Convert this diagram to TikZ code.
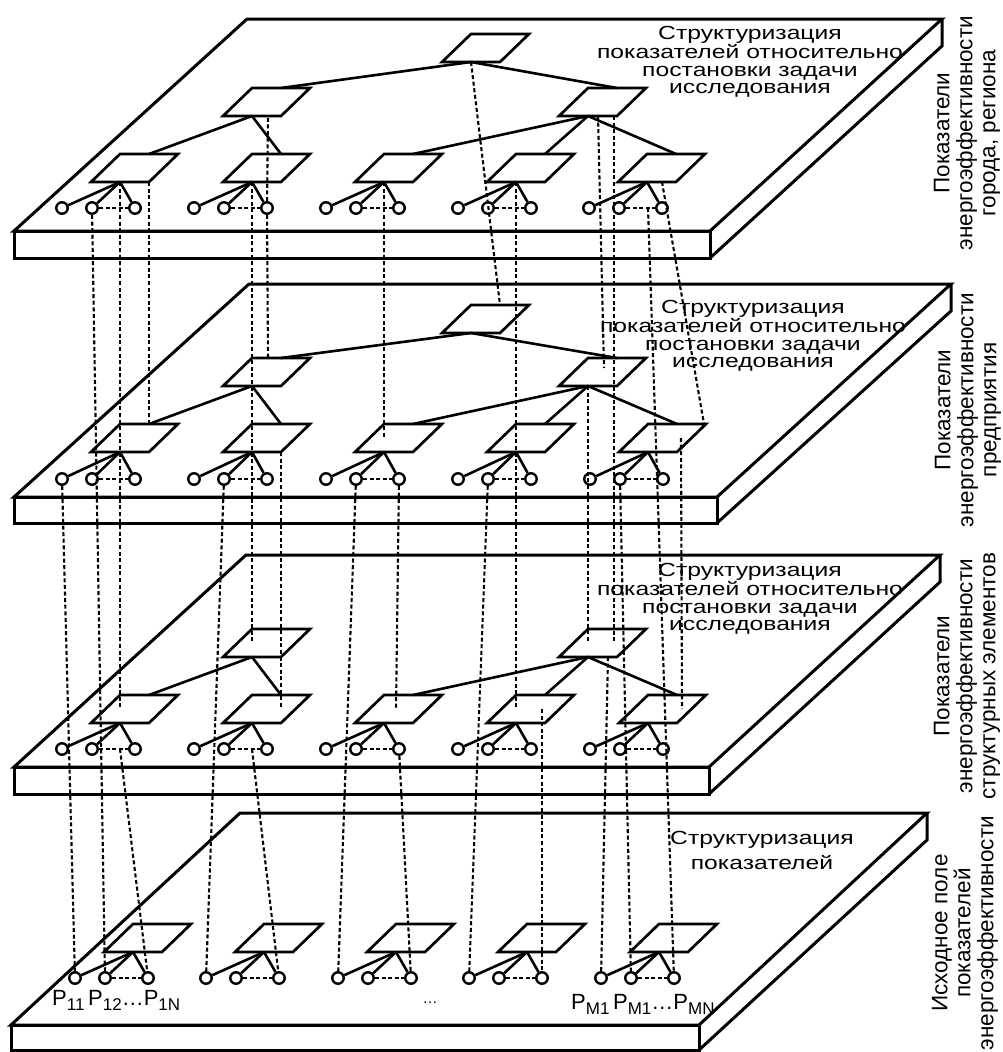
\documentclass[tikz,border=0pt]{standalone}
\usepackage{fontspec}
\setmainfont{Liberation Sans}
\newfontfamily\wfont[FakeStretch=1.3]{Liberation Sans}
\usetikzlibrary{calc}
\tikzset{
  plate/.style={line width=3pt, line join=miter},
  cardline/.style={line width=2.7pt, line join=miter},
  link/.style={line width=2.6pt},
  leaf/.style={circle, draw, line width=2.4pt, minimum size=11.5pt, inner sep=0pt},
  corr/.style={line width=2.1pt, dash pattern=on 4pt off 2.6pt},
  ptext/.style={font=\wfont\fontsize{19}{17.5}\selectfont, align=center, inner sep=0pt},
  vlab/.style={rotate=90, align=center, font=\fontsize{22.5}{23}\selectfont, inner sep=0pt},
  plab/.style={font=\fontsize{22}{22}\selectfont, inner sep=0pt, anchor=base west},
}
% card: name, bottom-middle x, bottom y
\newcommand\mkcard[3]{%
  \coordinate (#1-b) at (#2,#3);
  \coordinate (#1-t) at ({#2+29},{#3-28});
  \coordinate (#1-br) at ({#2+29},#3);
  \coordinate (#1-tr) at ({#2+58},{#3-28});
  \coordinate (#1-m) at (#2,{#3-14});
  \coordinate (#1-mr) at ({#2+29},{#3-14});
  \draw[cardline] ({#2-29},#3) -- ({#2+29},#3) -- ({#2+58},{#3-28}) -- (#2,{#3-28}) -- cycle;
}
% card with three leaves: name, bx, by, row y
\newcommand\mkgroup[4]{%
  \mkcard{#1}{#2}{#3}
  \node[leaf] (#1c1) at ({#2-58},#4) {};
  \node[leaf] (#1c2) at ({#2-28},#4) {};
  \node[leaf] (#1c3) at ({#2+15},#4) {};
  \coordinate (#1-r) at (#2,#4);
  \draw[link] (#1-b) -- (#1c1);
  \draw[link] (#1-b) -- (#1c2);
  \draw[link] (#1-b) -- (#1c3);
  \draw[corr] (#1c2) -- (#1c3);
}
\newcommand\psub[1]{{\fontsize{17}{17}\selectfont\raisebox{-5pt}{#1}}}
\begin{document}
\begin{tikzpicture}[x=1pt,y=-1pt]
\useasboundingbox (0,0) rectangle (1003,1052);

% ---------------- plates
\draw[plate] (14,231) -- (247,19) -- (942,19) -- (710,231) -- cycle;
\draw[plate] (14,231) rectangle (710,258);
\draw[plate] (942,19) -- (942,46) -- (710,258);

\draw[plate] (14,497) -- (249,284) -- (951,284) -- (717,497) -- cycle;
\draw[plate] (14,497) rectangle (717,523);
\draw[plate] (951,284) -- (951,311) -- (717,523);

\draw[plate] (14,767) -- (246,555) -- (940,555) -- (709,767) -- cycle;
\draw[plate] (14,767) rectangle (709,794);
\draw[plate] (940,555) -- (940,582) -- (709,794);

\draw[plate] (11,1025) -- (240,813) -- (927,813) -- (699,1025) -- cycle;
\draw[plate] (11,1025) rectangle (699,1050);
\draw[plate] (927,813) -- (927,840) -- (699,1050);

% ---------------- plate texts
\node[ptext, anchor=north] (t1) at (750,26) {Структуризация\\показателей относительно\\постановки задачи\\исследования};
\node[ptext, anchor=north] (t2) at (753,300) {Структуризация\\показателей относительно\\постановки задачи\\исследования};
\node[ptext, anchor=north] (t3) at (750,563) {Структуризация\\показателей относительно\\постановки задачи\\исследования};
\node[ptext, anchor=north, font=\wfont\fontsize{19}{25}\selectfont] (t4) at (762,831) {Структуризация\\показателей};

% ---------------- side labels
\node[vlab] (s1) at (967,133) {Показатели\\энергоэффективности\\города, региона};
\node[vlab] (s2) at (968,410) {Показатели\\энергоэффективности\\предприятия};
\node[vlab] (s3) at (967,676) {Показатели\\энергоэффективности\\структурных элементов};
\node[vlab] (s4) at (965,933) {Исходное поле\\показателей\\энергоэффективности};

% ---------------- plate 1
\mkcard{p1r}{471}{62}
\mkcard{p1L}{252}{116}
\mkcard{p1R}{588}{116}
\mkgroup{p1k1}{120}{182}{208}
\mkgroup{p1k2}{252}{182}{208}
\mkgroup{p1k3}{384}{182}{208}
\mkgroup{p1k4}{516}{182}{208}
\mkgroup{p1k5}{647}{182}{208}
\draw[link] (p1r-b) -- (p1L-t);
\draw[link] (p1r-b) -- (p1R-t);
\draw[link] (p1L-b) -- (p1k1-t);
\draw[link] (p1L-b) -- (p1k2-t);
\draw[link] (p1R-b) -- (p1k3-t);
\draw[link] (p1R-b) -- (p1k4-t);
\draw[link] (p1R-b) -- (p1k5-t);

% ---------------- plate 2
\mkcard{p2r}{471}{333}
\mkcard{p2L}{252}{386}
\mkcard{p2R}{588}{386}
\mkgroup{p2k1}{120}{452}{479}
\mkgroup{p2k2}{252}{452}{479}
\mkgroup{p2k3}{384}{452}{479}
\mkgroup{p2k4}{516}{452}{479}
\mkgroup{p2k5}{648}{452}{479}
\draw[link] (p2r-b) -- (p2L-t);
\draw[link] (p2r-b) -- (p2R-t);
\draw[link] (p2L-b) -- (p2k1-t);
\draw[link] (p2L-b) -- (p2k2-t);
\draw[link] (p2R-b) -- (p2k3-t);
\draw[link] (p2R-b) -- (p2k4-t);
\draw[link] (p2R-b) -- (p2k5-t);

% ---------------- plate 3
\mkcard{p3L}{252}{657}
\mkcard{p3R}{588}{657}
\mkgroup{p3k1}{120}{723}{749}
\mkgroup{p3k2}{252}{723}{749}
\mkgroup{p3k3}{384}{723}{749}
\mkgroup{p3k4}{516}{723}{749}
\mkgroup{p3k5}{648}{723}{749}
\draw[link] (p3L-b) -- (p3k1-t);
\draw[link] (p3L-b) -- (p3k2-t);
\draw[link] (p3R-b) -- (p3k3-t);
\draw[link] (p3R-b) -- (p3k4-t);
\draw[link] (p3R-b) -- (p3k5-t);

% ---------------- plate 4
\mkgroup{p4k1}{133}{952}{978}
\mkgroup{p4k2}{264}{952}{978}
\mkgroup{p4k3}{396}{952}{978}
\mkgroup{p4k4}{527}{952}{978}
\mkgroup{p4k5}{659}{952}{978}

\node[plab] (pl1) at (52,1005) {P\psub{11}\,P\psub{12}…P\psub{1N}};
\node[plab] (pl2) at (571,1009) {P\psub{M1}\,P\psub{M1}…P\psub{MN}};
\node[font=\fontsize{15}{15}\selectfont, inner sep=0pt, anchor=base] (pl3) at (430,1003) {…};

% ---------------- extra endpoints
\coordinate (p1L-e) at (268,116);
\coordinate (p2L-e) at (268,358);
\coordinate (p2k3-x) at (384,438);
\coordinate (p3k3-x) at (396,710);
\coordinate (p1R-o) at (598,116);
\coordinate (p2R-o) at (604,368);
\coordinate (p1R-p) at (614,116);
\coordinate (p3R-p) at (614,643);
\coordinate (p1k5-q) at (662,182);
\coordinate (p2k5-q) at (704,424);
\coordinate (p1k5-s) at (648,208);
\coordinate (p2k5-s) at (681,438);
\coordinate (p3k5-s) at (682,709);
\coordinate (p3k4-y) at (542,709);
\coordinate (p3R-z) at (608,657);

% ---------------- correspondences between levels
\draw[corr] (p1k1c2) -- (p4k1c2);
\draw[corr] (p1k1-b) -- (p3k1-m);
\draw[corr] (p1k1-br) -- (p2k1-t);
\draw[corr] (p1k2-b) -- (p3L-m);
\draw[corr] (p1k2c3) -- (p1L-e);
\draw[corr] (p1k2c3) -- (p2L-e);
\draw[corr] (p1k3-b) -- (p2k3-x);
\draw[corr] (p1r-b) -- (p2r-t);
\draw[corr] (p2k1c1) -- (p4k1c1);
\draw[corr] (p2k2c2) -- (p4k2c1);
\draw[corr] (p2k2-br) -- (p3k2-mr);
\draw[corr] (p2k3c2) -- (p4k3c1);
\draw[corr] (p2k3c3) -- (p3k3-x);
\draw[corr] (p3k3c3) -- (p4k3c3);
\draw[corr] (p1k4-b) -- (p3k4-m);
\draw[corr] (p1R-o) -- (p2R-o);
\draw[corr] (p1R-p) -- (p3R-p);
\draw[corr] (p1k5-q) -- (p2k5-q);
\draw[corr] (p1k5-s) -- (p4k5c3);
\draw[corr] (p2k5-s) -- (p3k5-s);
\draw[corr] (p2R-b) -- (p3R-m);
\draw[corr] (p2k5c2) -- (p4k5c2);
\draw[corr] (p3k1-r) -- (p4k1c3);
\draw[corr] (p2k4c2) -- (p4k4c1);
\draw[corr] (p3k2-r) -- (p4k2c3);
\draw[corr] (p3k4-y) -- (p4k4c3);
\draw[corr] (p3R-z) -- (p4k5c1);
\end{tikzpicture}
\end{document}
